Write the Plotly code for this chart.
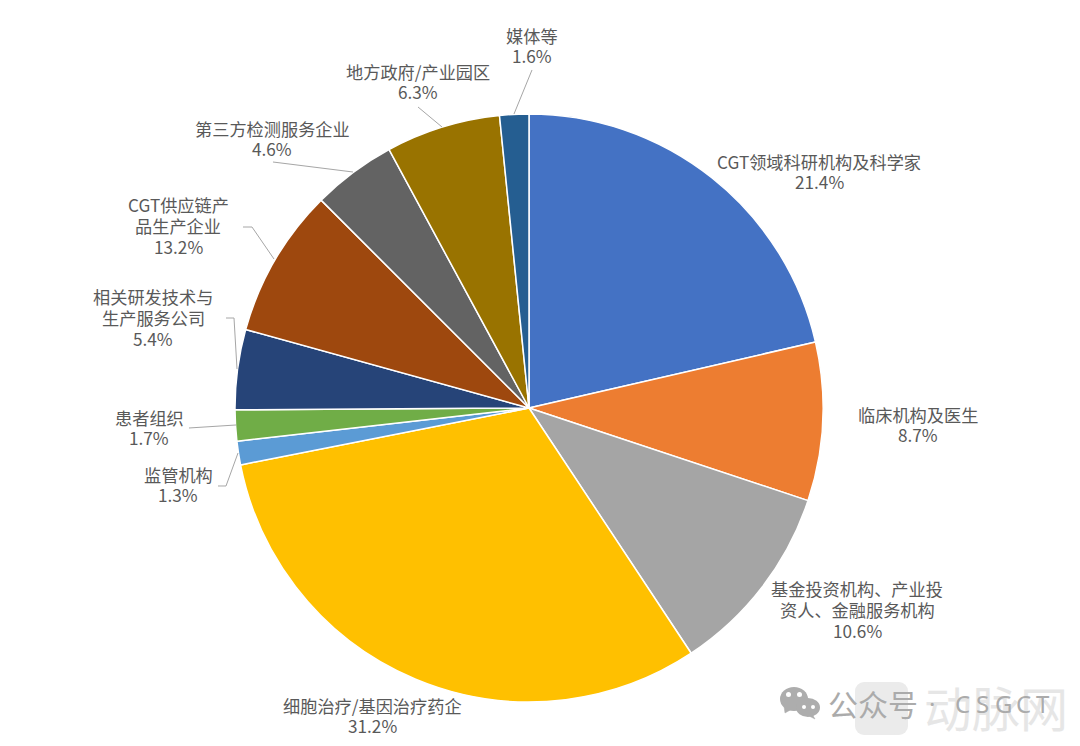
import plotly.graph_objects as go

# the page keeps an 8px body margin, so the figure is 16px smaller than the window
PAGE_MARGIN = 8
W, H = 1080 - 2 * PAGE_MARGIN, 746 - 2 * PAGE_MARGIN

# slice sizes as drawn: two printed percentages (5.4%, 13.2%) do not match their slices
categories = ['CGT领域科研机构及科学家', '临床机构及医生', '基金投资机构、产业投<br>资人、金融服务机构',
              '细胞治疗/基因治疗药企', '监管机构', '患者组织', '相关研发技术与<br>生产服务公司',
              'CGT供应链产<br>品生产企业', '第三方检测服务企业', '地方政府/产业园区', '媒体等']
drawn_values = [21.4, 8.7, 10.6, 31.2, 1.3, 1.7, 4.4, 8.2, 4.6, 6.3, 1.6]
printed_pct = ['21.4%', '8.7%', '10.6%', '31.2%', '1.3%', '1.7%', '5.4%', '13.2%', '4.6%', '6.3%', '1.6%']
colors = ['#4472C4', '#ED7D31', '#A5A5A5', '#FFC000', '#5B9BD5', '#70AD47',
          '#264478', '#9E480E', '#636363', '#997300', '#255E91']

# centre of each label block, pixels from top left of the window
label_x = [819, 918, 857, 372, 178, 149, 153, 178, 272, 418, 532]
label_y = [171.5, 424.5, 609.5, 715.5, 484.5, 427.5, 317.5, 225.5, 138.5, 81.5, 45.5]

# leader lines, pixels from top left of the window
leaders = [
    [(532, 70), (514, 114)],
    [(418, 107), (442, 127)],
    [(273, 162), (353, 172)],
    [(243, 227), (252, 227), (274, 259)],
    [(226, 318), (234, 318), (237, 369)],
    [(189, 428), (236, 425)],
    [(218, 486), (226, 486), (238, 453)],
]

TEXT_COLOR = '#595959'
FONT = 'Noto Sans CJK SC'
LINE_STEP = 20.7


def px(x):
    return (x - PAGE_MARGIN) / W


def py(y):
    return 1 - (y - PAGE_MARGIN) / H


def poly(pts, close=False):
    return 'M ' + ' L '.join(f'{px(a):.5f} {py(b):.5f}' for a, b in pts) + (' Z' if close else '')


def box(kind, x0, x1, y0, y1, color):
    return dict(type=kind, x0=px(x0), x1=px(x1), y0=py(y1), y1=py(y0), xref='paper', yref='paper',
                fillcolor=color, line=dict(width=0))


cx, cy, r = 529, 408, 294

fig = go.Figure(go.Pie(
    labels=categories,
    values=drawn_values,
    marker=dict(colors=colors, line=dict(color='white', width=1.5)),
    sort=False,
    direction='clockwise',
    rotation=0,
    textinfo='none',
    hoverinfo='label+percent',
    showlegend=False,
    domain=dict(x=[px(cx - r), px(cx + r)], y=[py(cy + r), py(cy - r)]),
))

annotations = []
for name, pct, x, y in zip(categories, printed_pct, label_x, label_y):
    lines = name.split('<br>') + [pct]
    top = y - LINE_STEP * (len(lines) - 1) / 2
    for i, line in enumerate(lines):
        annotations.append(dict(
            x=px(x), y=py(top + i * LINE_STEP), xref='paper', yref='paper',
            text=line, showarrow=False, xanchor='center', yanchor='middle',
            font=dict(family=FONT, size=17.2, color=TEXT_COLOR),
        ))


def watermark(text, x, y, family, size, color):
    annotations.append(dict(x=px(x), y=py(y), xref='paper', yref='paper', text=text, showarrow=False,
                            xanchor='center', yanchor='middle',
                            font=dict(family=family, size=size, color=color)))


watermark('动脉网', 996, 706, FONT, 48, '#E6E6E6')
watermark('公众号', 873, 703, FONT, 30, '#ABABAB')
for ch, x in zip(['·', 'C', 'S', 'G', 'C', 'T'], [932, 962, 982, 1003, 1023, 1043]):
    watermark(ch, x, 703, 'Noto Sans', 24, '#ABABAB')

shapes = []
for pts in leaders:
    shapes.append(dict(type='path', path=poly(pts), xref='paper', yref='paper',
                       line=dict(color='#A6A6A6', width=1)))

# watermark logo, rounded square made of two bars and four corners
lx0, lx1, ly0, ly1, c = 855, 908, 682, 735, 9
LOGO_COLOR = '#EBEBEB'
shapes.append(box('rect', lx0 + c, lx1 - c, ly0, ly1, LOGO_COLOR))
shapes.append(box('rect', lx0, lx1, ly0 + c, ly1 - c, LOGO_COLOR))
for ax in [lx0, lx1 - 2 * c]:
    for ay in [ly0, ly1 - 2 * c]:
        shapes.append(box('circle', ax, ax + 2 * c, ay, ay + 2 * c, LOGO_COLOR))

# wechat icon
ICON_COLOR = '#ADADAD'
for tail in [[(784, 706), (785, 713), (792, 709)], [(812, 714), (815, 719), (809, 716)]]:
    shapes.append(dict(type='path', path=poly(tail, close=True), xref='paper', yref='paper',
                       fillcolor=ICON_COLOR, line=dict(color=ICON_COLOR, width=0.5)))
for ex0, ex1, ey0, ey1, col in [(780, 808, 687, 711, ICON_COLOR), (796, 820, 698, 717, ICON_COLOR),
                                (786, 791, 692, 697, 'white'), (797, 802, 692, 697, 'white'),
                                (802, 806, 705, 709, 'white'), (811, 815, 705, 709, 'white')]:
    shapes.append(box('circle', ex0, ex1, ey0, ey1, col))

fig.update_layout(
    width=W, height=H,
    margin=dict(l=0, r=0, t=0, b=0),
    paper_bgcolor='white',
    annotations=annotations,
    shapes=shapes,
)

fig.write_html("out.html")
